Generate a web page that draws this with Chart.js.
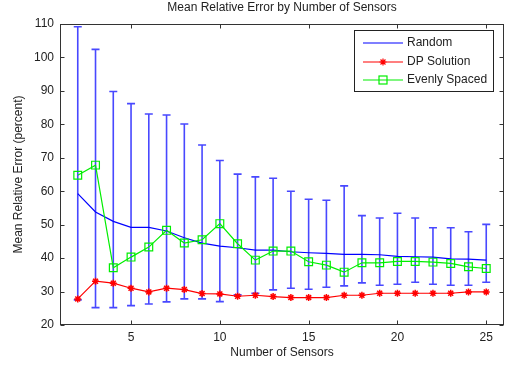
<!DOCTYPE html>
<html>
<head>
<meta charset="utf-8">
<script src="https://cdn.jsdelivr.net/npm/chart.js@4/dist/chart.umd.min.js"></script>
<style>
  html, body { margin: 0; padding: 0; background: #fff; }
  #wrap { width: 505px; height: 366px; position: relative; }
</style>
</head>
<body>
<div id="wrap"><canvas id="c" width="505" height="366"></canvas></div>
<script>
const chartTitle = "Mean Relative Error by Number of Sensors";
const xTitle = "Number of Sensors";
const yTitle = "Mean Relative Error (percent)";
const seriesNames = ["Random", "DP Solution", "Evenly Spaced"];

const sensors = [2,3,4,5,6,7,8,9,10,11,12,13,14,15,16,17,18,19,20,21,22,23,24,25];
const randomMean  = [59.3,53.8,51.0,49.2,49.2,48.1,46.1,44.5,43.6,43.1,42.4,42.4,41.9,41.6,41.4,41.1,41.1,41.0,40.5,40.4,40.3,39.8,39.7,39.4];
const randomUpper = [109.2,102.4,89.8,86.2,83.1,82.8,80.1,73.8,69.2,65.1,64.3,63.9,60.0,57.6,57.3,61.6,52.7,52.0,53.4,52.0,49.1,49.1,47.9,50.1];
const randomLower = [27.5,25.2,25.2,25.8,26.3,26.9,27.8,27.8,27.0,29.0,29.5,30.5,31.0,30.7,31.3,31.7,32.6,31.9,32.2,32.8,32.2,31.9,31.9,32.8];
const dpSolution  = [27.8,33.1,32.5,31.0,29.9,31.0,30.6,29.4,29.3,28.6,28.9,28.5,28.2,28.2,28.2,28.9,28.9,29.5,29.5,29.5,29.5,29.5,29.9,29.9];
const evenlySpaced= [64.8,67.8,37.1,40.3,43.3,48.3,44.5,45.5,50.3,44.3,39.4,42.1,42.1,38.9,37.9,35.8,38.6,38.6,39.0,39.0,38.8,38.4,37.4,36.9];
const xTicks = [5,10,15,20,25];
const yTicks = [20,30,40,50,60,70,80,90,100,110];

const FONT = "'Liberation Sans', Arial, Helvetica, sans-serif";
const TXT = "#222";
const BLUE = "#0000ff", RED = "#ff0000", GREEN = "#00ee00";

const pts = (ys) => sensors.map((x, i) => ({x: x, y: ys[i]}));

const matlabPlugin = {
  id: 'matlab',
  beforeDatasetsDraw(chart) {
    const {ctx, scales: {x, y}} = chart;
    ctx.save();
    ctx.strokeStyle = "rgba(40,40,255,0.85)";
    ctx.lineWidth = 1.6;
    sensors.forEach((s, i) => {
      const px = x.getPixelForValue(s);
      const pt = y.getPixelForValue(randomUpper[i]);
      const pb = y.getPixelForValue(randomLower[i]);
      ctx.beginPath();
      ctx.moveTo(px, pt); ctx.lineTo(px, pb);
      ctx.moveTo(px - 4, pt); ctx.lineTo(px + 4, pt);
      ctx.moveTo(px - 4, pb); ctx.lineTo(px + 4, pb);
      ctx.stroke();
    });
    ctx.restore();
  },
  afterDraw(chart) {
    const {ctx, chartArea: a, scales: {x, y}} = chart;
    ctx.save();
    ctx.strokeStyle = "#333";
    ctx.lineWidth = 1;
    const L = Math.round(a.left) + 0.5, R = Math.round(a.right) - 0.5;
    const T = Math.round(a.top) + 0.5, B = Math.round(a.bottom) - 0.5;
    ctx.strokeRect(L, T, R - L, B - T);
    ctx.beginPath();
    xTicks.forEach(v => {
      const px = Math.round(x.getPixelForValue(v)) + 0.5;
      ctx.moveTo(px, B); ctx.lineTo(px, B - 4);
      ctx.moveTo(px, T); ctx.lineTo(px, T + 4);
    });
    yTicks.forEach(v => {
      const py = Math.round(y.getPixelForValue(v)) + 0.5;
      ctx.moveTo(L, py); ctx.lineTo(L + 4, py);
      ctx.moveTo(R, py); ctx.lineTo(R - 4, py);
    });
    ctx.stroke();
    ctx.fillStyle = TXT;
    ctx.font = "12px " + FONT;
    ctx.textAlign = "center";
    ctx.textBaseline = "middle";
    ctx.fillText(chartTitle, (a.left + a.right) / 2, 8);
    const lx = 354.5, ly = 30.5, lw = 139, lh = 61;
    ctx.fillStyle = "#fff";
    ctx.fillRect(lx, ly, lw, lh);
    ctx.strokeStyle = "#222";
    ctx.strokeRect(lx, ly, lw, lh);
    const rows = [43, 62, 80];
    const cols = [BLUE, RED, GREEN];
    rows.forEach((ry, i) => {
      ctx.strokeStyle = cols[i];
      ctx.lineWidth = 1.2;
      ctx.beginPath();
      ctx.moveTo(363, ry); ctx.lineTo(403, ry);
      ctx.stroke();
      if (i === 1) {
        ctx.beginPath();
        for (let k = 0; k < 4; k++) {
          const ang = k * Math.PI / 4;
          ctx.moveTo(383 - 3.5 * Math.cos(ang), ry - 3.5 * Math.sin(ang));
          ctx.lineTo(383 + 3.5 * Math.cos(ang), ry + 3.5 * Math.sin(ang));
        }
        ctx.stroke();
      } else if (i === 2) {
        ctx.strokeRect(379, ry - 4, 8, 8);
      }
      ctx.fillStyle = TXT;
      ctx.textAlign = "left";
      ctx.fillText(seriesNames[i], 407, ry);
    });
    ctx.restore();
  }
};

new Chart(document.getElementById('c'), {
  type: 'line',
  data: {
    datasets: [
      { label: seriesNames[2], data: pts(evenlySpaced), borderColor: GREEN, backgroundColor: 'transparent',
        borderWidth: 1.2, pointStyle: 'rect', pointRadius: 5.5, pointBorderWidth: 1.2,
        pointBorderColor: GREEN, pointBackgroundColor: 'transparent', order: 1, tension: 0 },
      { label: seriesNames[1], data: pts(dpSolution), borderColor: RED, backgroundColor: RED,
        borderWidth: 1.2, pointStyle: 'star', pointRadius: 3.5, pointBorderWidth: 1.5,
        pointBorderColor: RED, pointBackgroundColor: RED, order: 2, tension: 0 },
      { label: seriesNames[0], data: pts(randomMean), borderColor: BLUE, backgroundColor: BLUE,
        borderWidth: 1.2, pointRadius: 0, order: 3, tension: 0 }
    ]
  },
  options: {
    responsive: false,
    animation: false,
    events: [],
    layout: { autoPadding: false, padding: { top: 24, right: 1, bottom: 0, left: 0 } },
    plugins: { legend: { display: false }, tooltip: { enabled: false }, title: { display: false } },
    scales: {
      x: {
        type: 'linear', min: 1, max: 26,
        afterBuildTicks: (s) => { s.ticks = xTicks.map(v => ({value: v})); },
        afterFit: (s) => { s.height = 41; s.paddingLeft = 0; s.paddingRight = 0; },
        grid: { display: false, drawTicks: false },
        border: { display: false },
        ticks: { color: TXT, font: { family: FONT, size: 12 }, padding: 5, maxRotation: 0 },
        title: { display: true, text: xTitle, color: TXT, font: { family: FONT, size: 12 }, padding: { top: 0, bottom: 6 } }
      },
      y: {
        type: 'linear', min: 20, max: 110,
        afterBuildTicks: (s) => { s.ticks = yTicks.map(v => ({value: v})); },
        afterFit: (s) => { s.width = 60; s.paddingTop = 0; s.paddingBottom = 0; },
        grid: { display: false, drawTicks: false },
        border: { display: false },
        ticks: { color: TXT, font: { family: FONT, size: 12 }, padding: 6 },
        title: { display: true, text: yTitle, color: TXT, font: { family: FONT, size: 12 }, padding: { top: 11, bottom: 0 } }
      }
    }
  },
  plugins: [matlabPlugin]
});
</script>
</body>
</html>
